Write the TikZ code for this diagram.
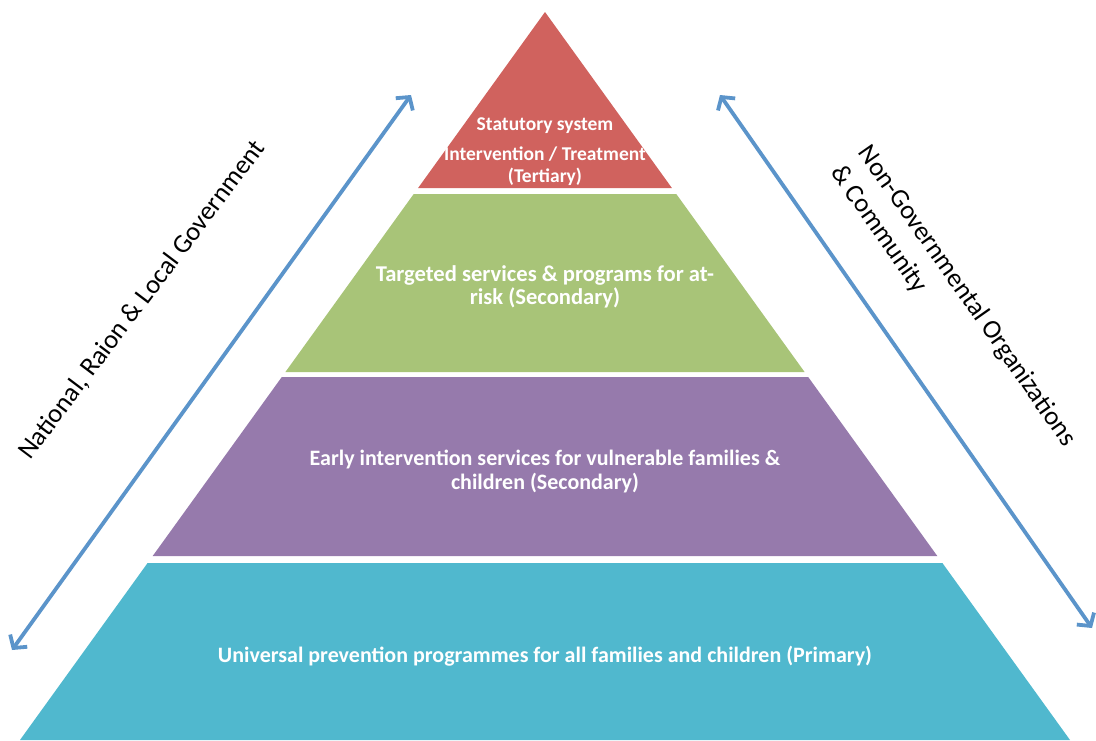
\documentclass[tikz,border=0pt]{standalone}
\usepackage{fontspec}
\setmainfont{Carlito}
\usepackage{tikz}
\usetikzlibrary{arrows.meta}
\definecolor{cred}{RGB}{208,98,94}
\definecolor{cgreen}{RGB}{168,196,120}
\definecolor{cpurple}{RGB}{150,122,172}
\definecolor{ccyan}{RGB}{80,184,206}
\definecolor{cblue}{RGB}{91,148,202}

\begin{document}
\begin{tikzpicture}[x=1pt, y=-1pt, >={Straight Barb[length=9pt, width=21pt]}]
  \tikzstyle{bandtext}=[text=white, align=center, inner sep=0pt]
  \tikzstyle{level}=[text=black, inner sep=0pt, font=\fontsize{26.5}{34}\selectfont]
  \tikzstyle{axis}=[<->, draw=cblue, line width=3.8pt]

  \useasboundingbox (0,0) rectangle (1096,740);

  % the four levels of the pyramid
  \fill[cred]    (545,12)    -- (671.9,188) -- (418.1,188) -- cycle;
  \fill[cgreen]  (413.7,194) -- (676.3,194) -- (804.6,372) -- (285.4,372) -- cycle;
  \fill[cpurple] (281.8,377) -- (808.2,377) -- (937.3,556) -- (152.7,556) -- cycle;
  \fill[ccyan]   (147.6,563) -- (942.4,563) -- (1070,740)  -- (20,740)    -- cycle;

	\node[bandtext, font=\bfseries\fontsize{19.5}{22}\selectfont] (tertiary) at (545,152)
		{Statutory system\\[8pt]Intervention / Treatment\\(Tertiary)};
	\node[bandtext, font=\bfseries\fontsize{22.6}{23}\selectfont] (targeted) at (545,287)
		{Targeted services \& programs for at-\\risk (Secondary)};
	\node[bandtext, font=\bfseries\fontsize{22}{24}\selectfont] (early) at (545,471)
		{Early intervention services for vulnerable families \&\\children (Secondary)};
	\node[bandtext, font=\bfseries\fontsize{22}{24}\selectfont] (primary) at (545,656)
		{Universal prevention programmes for all families and children (Primary)};

  % who provides what, along both sides
	\coordinate (govlow)  at (12,650);
	\coordinate (govhigh) at (411,95);
	\coordinate (ngohigh) at (720,95);
	\coordinate (ngolow)  at (1092,628);

	\draw[axis] (govlow) -- (govhigh);
	\draw[axis] (ngohigh) -- (ngolow);

	\node[level, rotate=53] (gov) at (142,300) {National, Raion \& Local Government};
	\node[level, rotate=-55, align=left] (ngo) at (953,306)
		{Non-Governmental Organizations\\\& Community};

\end{tikzpicture}
\end{document}
